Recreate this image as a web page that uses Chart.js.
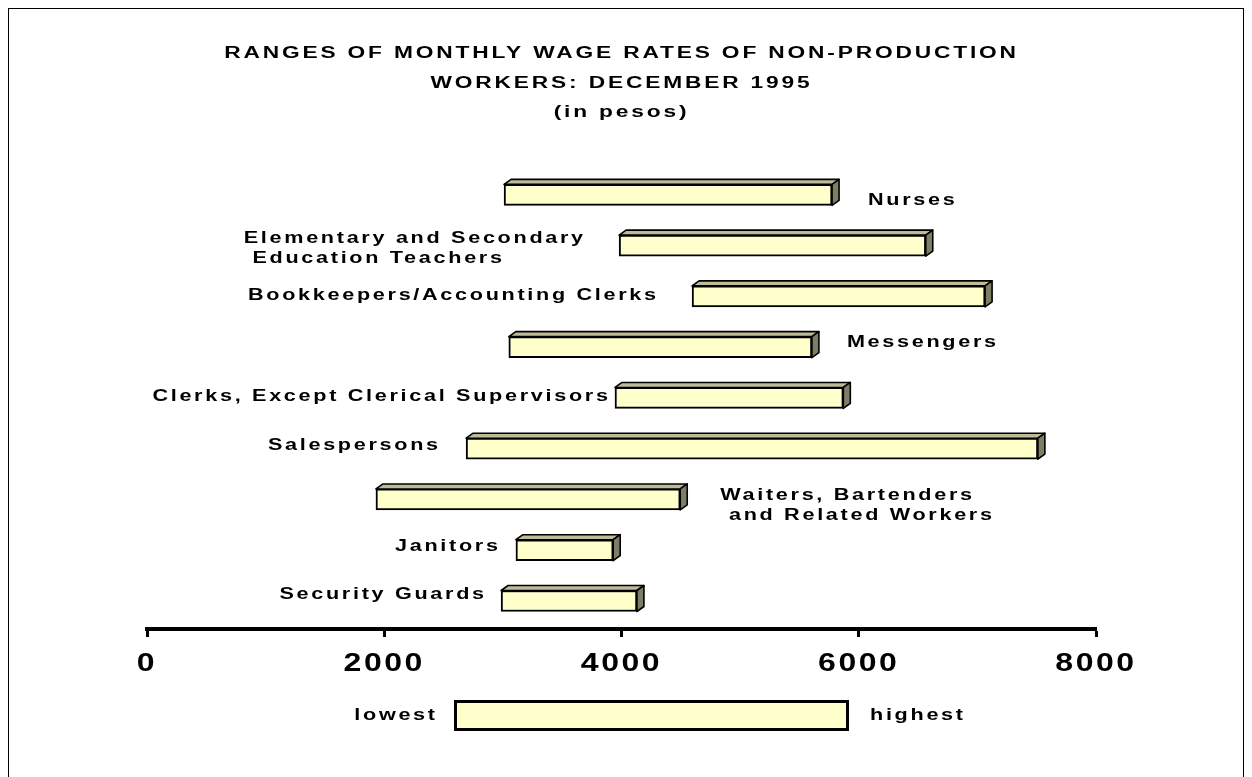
<!DOCTYPE html>
<html>
<head>
<meta charset="utf-8">
<script src="https://cdn.jsdelivr.net/npm/chart.js@4.4.1/dist/chart.umd.min.js"></script>
<style>
  html, body { margin: 0; padding: 0; background: #fff; }
  body { width: 1252px; height: 777px; overflow: hidden; position: relative; }
  #frame { position: absolute; left: 8px; top: 8px; width: 1236px; height: 800px; border: 1px solid #000; box-sizing: border-box; }
  #wrap { position: absolute; left: 0; top: 0; width: 1252px; height: 777px; }
</style>
</head>
<body>
<div id="frame"></div>
<div id="wrap"><canvas id="c" width="1252" height="777"></canvas></div>
<script>
// ---------------- data ----------------
const titleLines = ['RANGES OF MONTHLY WAGE RATES OF NON-PRODUCTION', 'WORKERS: DECEMBER 1995', '(in pesos)'];
const categories = [
  'Nurses',
  ['Elementary and Secondary', ' Education Teachers'],
  'Bookkeepers/Accounting Clerks',
  'Messengers',
  'Clerks, Except Clerical Supervisors',
  'Salespersons',
  ['Waiters, Bartenders', ' and Related Workers'],
  'Janitors',
  'Security Guards'
];
const lowestWage  = [3010, 3980, 4595, 3050, 3945, 2690, 1930, 3110, 2985];
const highestWage = [5775, 6565, 7065, 5605, 5870, 7510, 4495, 3930, 4130];
const xTickValues = [0, 2000, 4000, 6000, 8000];
const xTickLabels = ['0', '2000', '4000', '6000', '8000'];
const legendLabels = ['lowest', 'highest'];

// ---------------- layout / style config ----------------
const FONT = '"Liberation Sans", Arial, Helvetica, sans-serif';
const labelStyle = { size: 16, sx: 1.35, spacing: 2, lineHeight: 19.5 };
const labelPlacement = [
  { side: 'right', gap: 36, dy: 6 },
  { side: 'left',  gap: 36, dy: 3 },
  { side: 'left',  gap: 36, dy: -1 },
  { side: 'right', gap: 35, dy: -5 },
  { side: 'left',  gap: 7,  dy: -1 },
  { side: 'left',  gap: 28, dy: -3 },
  { side: 'right', gap: 40, dy: 6 },
  { side: 'left',  gap: 18, dy: -4 },
  { side: 'left',  gap: 17, dy: -6 }
];
const Y_MIN = -0.5, Y_MAX = 8.552;
const depth = { dx: 7, dy: 5, top: '#BDBB98', side: '#7E7E66' };

function withStretch(ctx, sx, sp, fn) {
  const proto = CanvasRenderingContext2D.prototype.fillText;
  ctx.fillText = function (text, x, y) {
    this.save();
    this.letterSpacing = sp + 'px';
    this.translate(x, y);
    this.scale(sx, 1);
    proto.call(this, text, 0, 0);
    this.restore();
  };
  try { fn(); } finally { delete ctx.fillText; }
}

function stretchedText(ctx, text, x, y, align, size, sx, sp) {
  ctx.save();
  ctx.font = 'bold ' + size + 'px ' + FONT;
  ctx.letterSpacing = sp + 'px';
  ctx.fillStyle = '#000';
  ctx.textBaseline = 'middle';
  const w = (ctx.measureText(text).width - sp) * sx;
  const x0 = align === 'right' ? x - w : x;
  ctx.translate(x0, y);
  ctx.scale(sx, 1);
  ctx.textAlign = 'left';
  ctx.fillText(text, 0, 0);
  ctx.restore();
  return w;
}

const stretchPlugin = {
  id: 'stretch',
  beforeDraw(chart) {
    const t = chart.titleBlock, xs = chart.scales.x;
    if (t && !t._st) {
      const d = t.draw;
      t.draw = function (a) { withStretch(chart.ctx, 1.42, 2, () => d.call(this, a)); };
      t._st = true;
    }
    if (xs && !xs._st) {
      const d = xs.drawLabels;
      xs.drawLabels = function (a) { withStretch(chart.ctx, 1.28, 2, () => d.call(this, a)); };
      xs._st = true;
    }
  }
};

const bar3dPlugin = {
  id: 'bar3d',
  afterDatasetsDraw(chart) {
    const ctx = chart.ctx;
    const meta = chart.getDatasetMeta(0);
    meta.data.forEach((el, i) => {
      const { x, y, base, height } = el.getProps(['x', 'y', 'base', 'height'], true);
      const l = Math.min(x, base), r = Math.max(x, base);
      const t = y - height / 2, b = y + height / 2;
      ctx.save();
      ctx.lineWidth = 1.6;
      ctx.strokeStyle = '#000';
      ctx.lineJoin = 'round';
      ctx.beginPath();
      ctx.moveTo(l, t); ctx.lineTo(l + depth.dx, t - depth.dy);
      ctx.lineTo(r + depth.dx, t - depth.dy); ctx.lineTo(r, t); ctx.closePath();
      ctx.fillStyle = depth.top; ctx.fill(); ctx.stroke();
      ctx.beginPath();
      ctx.moveTo(r, t); ctx.lineTo(r + depth.dx, t - depth.dy);
      ctx.lineTo(r + depth.dx, b - depth.dy); ctx.lineTo(r, b); ctx.closePath();
      ctx.fillStyle = depth.side; ctx.fill(); ctx.stroke();
      ctx.restore();

      // category label
      const p = labelPlacement[i];
      const lines = [].concat(categories[i]);
      ctx.save();
      ctx.font = 'bold ' + labelStyle.size + 'px ' + FONT;
      ctx.letterSpacing = labelStyle.spacing + 'px';
      const widths = lines.map(s => (ctx.measureText(s).width - labelStyle.spacing) * labelStyle.sx);
      ctx.restore();
      const W = Math.max(...widths);
      const x0 = p.side === 'right' ? r + p.gap : l - p.gap - W;
      const yc = y + p.dy - (lines.length - 1) * labelStyle.lineHeight / 2;
      lines.forEach((s, k) => {
        stretchedText(ctx, s, x0, yc + k * labelStyle.lineHeight, 'left', labelStyle.size, labelStyle.sx, labelStyle.spacing);
      });
    });
  },
  afterDraw(chart) {
    // custom legend key: lowest [bar] highest
    const ctx = chart.ctx;
    const bx = 454, by = 700, bw = 395, bh = 31;
    ctx.save();
    ctx.fillStyle = '#FFFFCC';
    ctx.fillRect(bx, by, bw, bh);
    ctx.lineWidth = 3;
    ctx.strokeStyle = '#000';
    ctx.strokeRect(bx + 1.5, by + 1.5, bw - 3, bh - 3);
    ctx.restore();
    stretchedText(ctx, legendLabels[0], bx - 19, by + bh / 2, 'right', 16, 1.35, 2);
    stretchedText(ctx, legendLabels[1], bx + bw + 21, by + bh / 2, 'left', 16, 1.35, 2);
  }
};

const ctx = document.getElementById('c').getContext('2d');
new Chart(ctx, {
  type: 'bar',
  data: {
    datasets: [{
      data: lowestWage.map((lo, i) => ({ x: [lo, highestWage[i]], y: i })),
      backgroundColor: '#FFFFCC',
      borderColor: '#000000',
      borderWidth: 2,
      borderSkipped: false,
      barThickness: 21
    }]
  },
  options: {
    indexAxis: 'y',
    responsive: false,
    animation: false,
    devicePixelRatio: 1,
    layout: { padding: { left: 147, right: 156, top: 0, bottom: 0 } },
    scales: {
      y: {
        type: 'linear',
        reverse: true,
        offset: false,
        bounds: 'data',
        min: Y_MIN,
        max: Y_MAX,
        afterBuildTicks: s => { s.min = Y_MIN; s.max = Y_MAX; },
        grid: { offset: false },
        display: false
      },
      x: {
        type: 'linear',
        position: 'bottom',
        min: 0,
        max: 8000,
        afterBuildTicks: s => { s.ticks = xTickValues.map(v => ({ value: v })); },
        afterFit: s => { s.paddingLeft = 0; s.paddingRight = 0; s.height = 148; },
        ticks: {
          color: '#000',
          padding: 12,
          font: { family: FONT, size: 25, weight: 'bold' },
          maxRotation: 0,
          autoSkip: false,
          callback: (v) => xTickLabels[xTickValues.indexOf(v)] ?? String(v)
        },
        grid: {
          display: true,
          drawOnChartArea: false,
          drawTicks: true,
          tickLength: 8,
          tickWidth: 3,
          tickColor: '#000'
        },
        border: { display: true, color: '#000', width: 4 }
      }
    },
    plugins: {
      legend: { display: false },
      tooltip: { enabled: false },
      title: {
        display: true,
        text: titleLines,
        color: '#000',
        font: { family: FONT, size: 16, weight: 'bold', lineHeight: '29.5px' },
        padding: { top: 39, bottom: 42 }
      }
    }
  },
  plugins: [stretchPlugin, bar3dPlugin]
});
</script>
</body>
</html>
